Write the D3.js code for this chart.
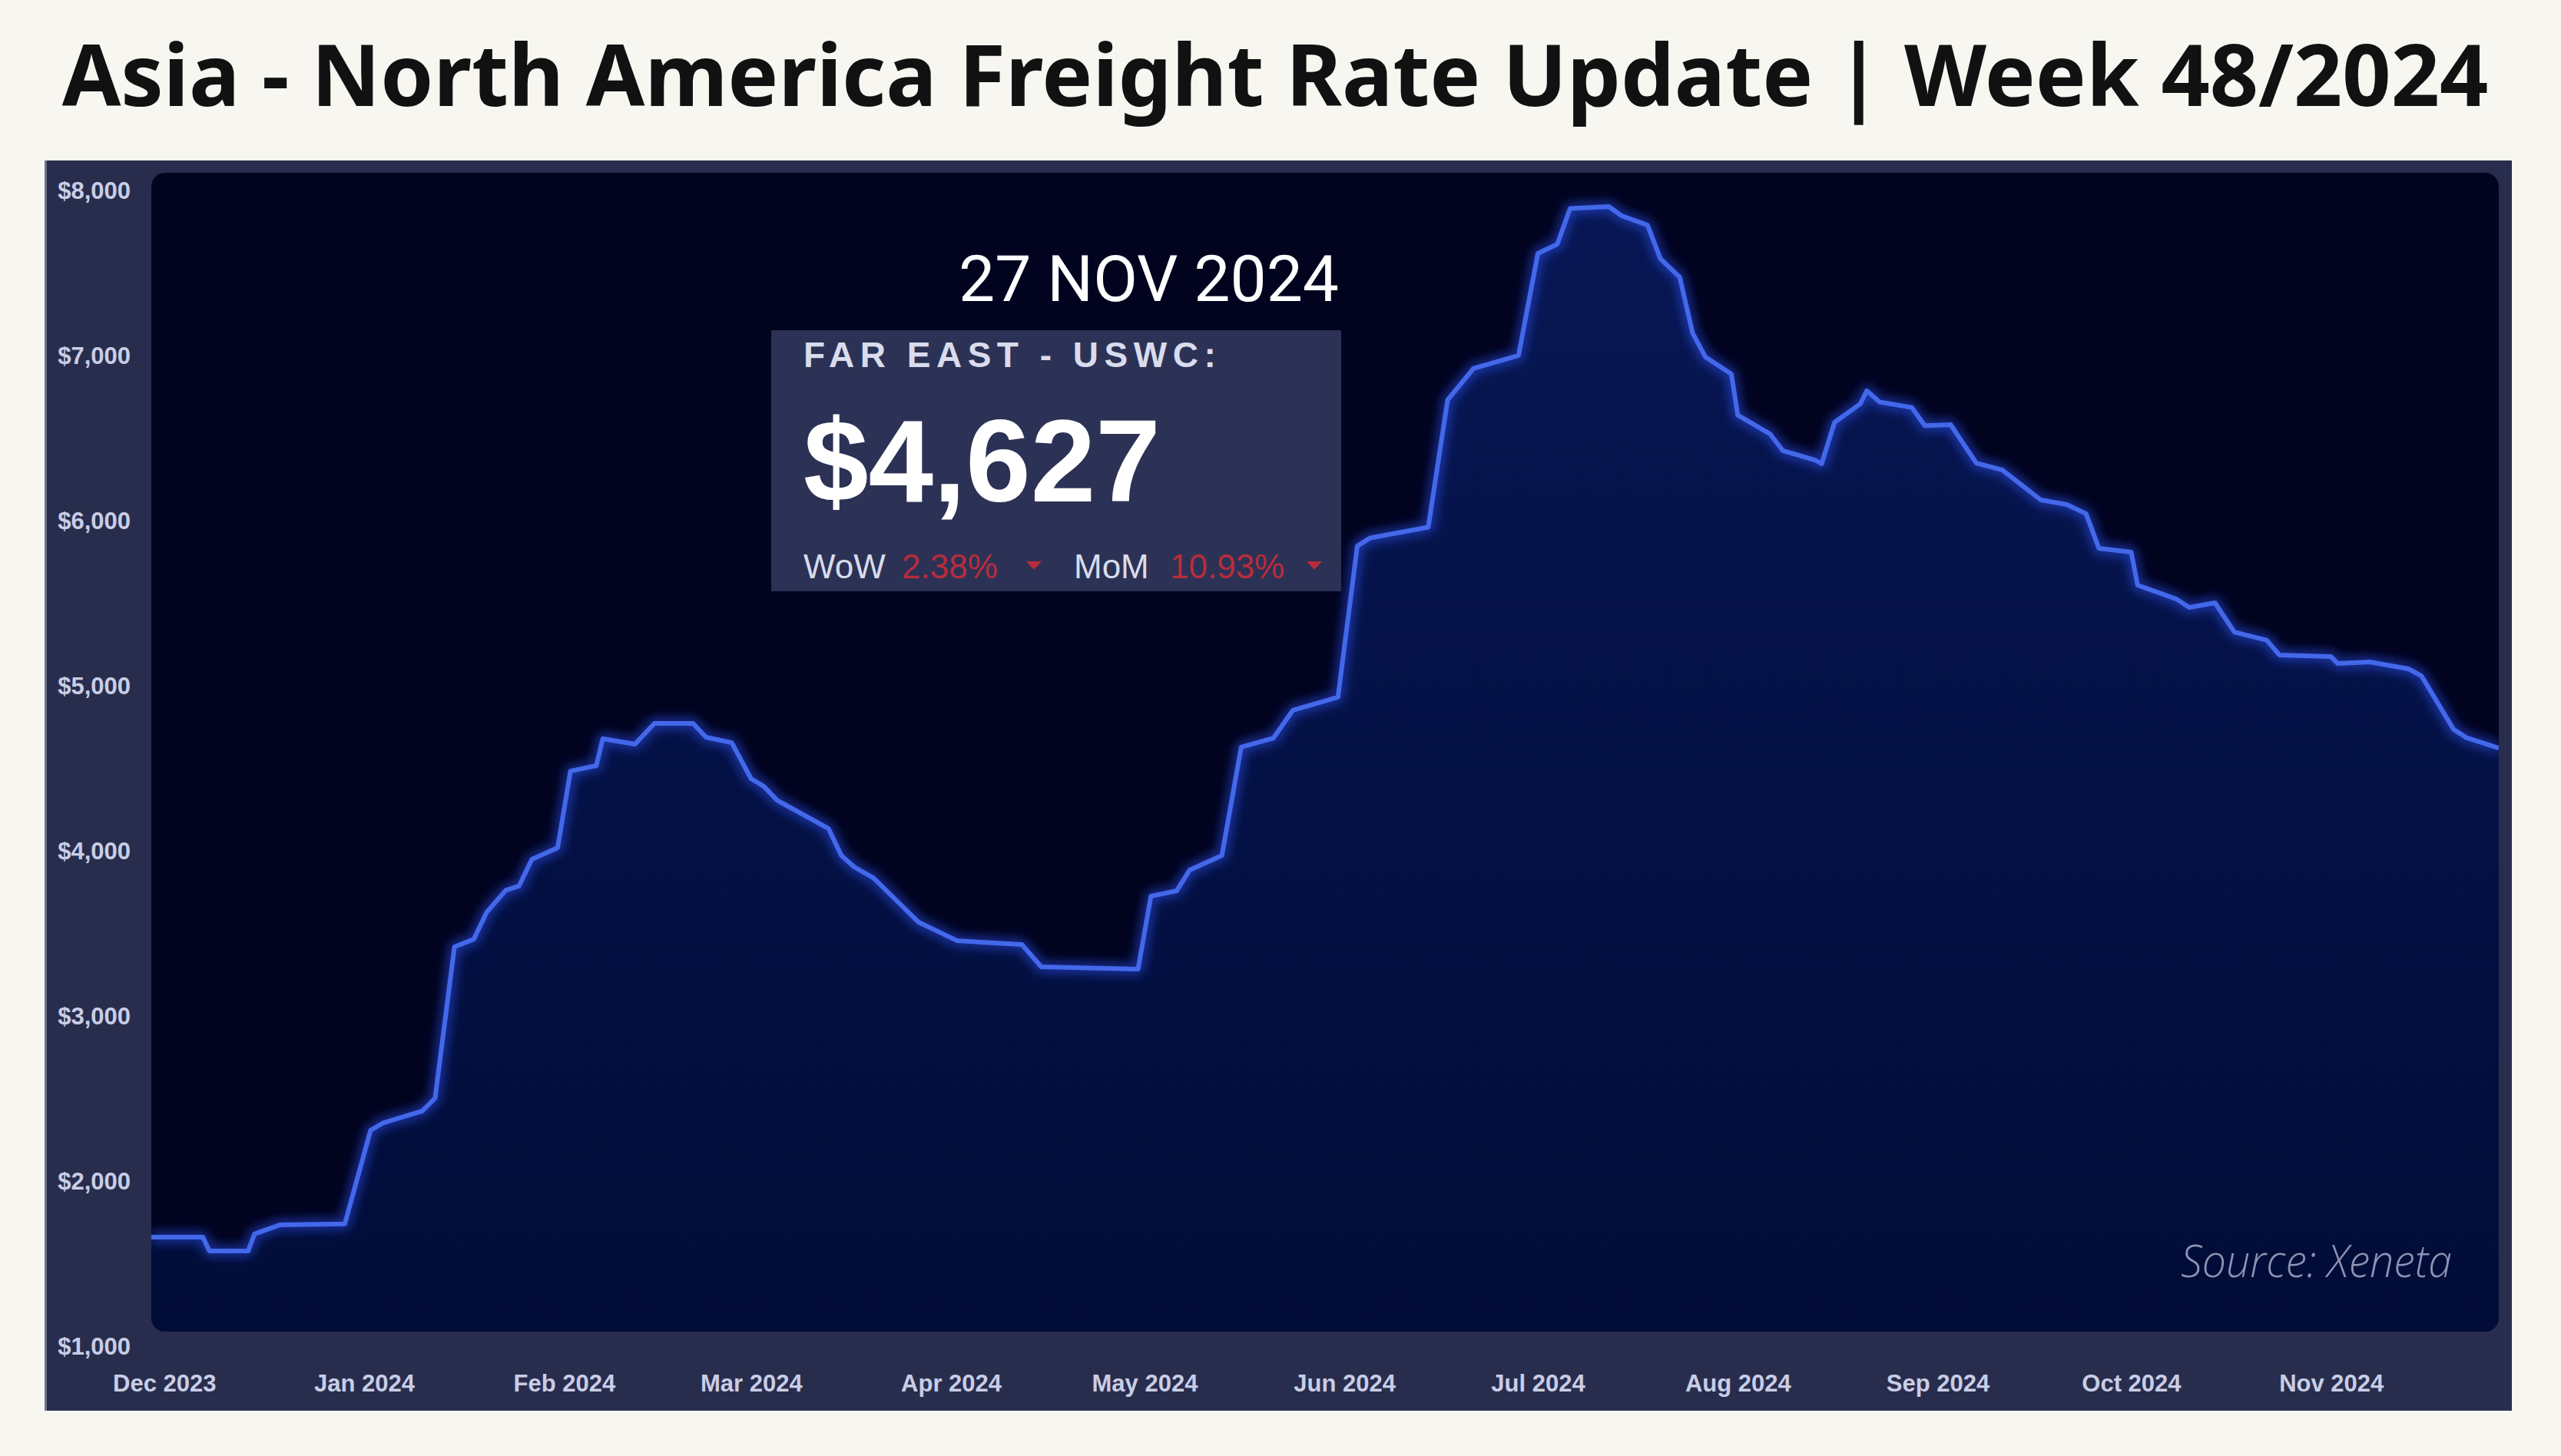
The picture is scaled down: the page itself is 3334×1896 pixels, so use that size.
<!DOCTYPE html>
<html><head><meta charset="utf-8">
<script src="https://cdn.jsdelivr.net/npm/d3@7"></script>
<style>html,body{margin:0;padding:0;background:#f7f6f1;}svg{display:block}</style>
</head><body>
<svg id="c" width="3334" height="1896"></svg>
<script>
const titleText = "Asia - North America Freight Rate Update | Week 48/2024";
const dates = ["2023-11-29","2023-12-07","2023-12-08","2023-12-14","2023-12-15","2023-12-17","2023-12-19","2023-12-29",
"2024-01-02","2024-01-04","2024-01-10","2024-01-12","2024-01-15","2024-01-18","2024-01-20","2024-01-23","2024-01-25","2024-01-27","2024-01-31",
"2024-02-02","2024-02-06","2024-02-07","2024-02-12","2024-02-15","2024-02-21","2024-02-23","2024-02-27",
"2024-03-01","2024-03-03","2024-03-05","2024-03-13","2024-03-15","2024-03-17","2024-03-20","2024-03-27",
"2024-04-02","2024-04-12","2024-04-15","2024-04-30",
"2024-05-02","2024-05-06","2024-05-08","2024-05-13","2024-05-16","2024-05-21","2024-05-24","2024-05-31",
"2024-06-03","2024-06-05","2024-06-14","2024-06-17","2024-06-21","2024-06-28",
"2024-07-01","2024-07-04","2024-07-06","2024-07-12","2024-07-14","2024-07-18","2024-07-20","2024-07-23","2024-07-25","2024-07-27","2024-07-31",
"2024-08-01","2024-08-06","2024-08-08","2024-08-13","2024-08-14","2024-08-16","2024-08-20","2024-08-21","2024-08-23","2024-08-28","2024-08-30",
"2024-09-03","2024-09-07","2024-09-11","2024-09-17","2024-09-21","2024-09-24","2024-09-26",
"2024-10-01","2024-10-02","2024-10-08","2024-10-10","2024-10-14","2024-10-17","2024-10-22","2024-10-24",
"2024-11-01","2024-11-02","2024-11-07","2024-11-13","2024-11-15","2024-11-20","2024-11-22","2024-11-27"];
const values = [1665,1665,1581,1581,1684,1712,1740,1745,
2312,2358,2428,2507,3423,3470,3633,3767,3791,3953,4023,
4488,4521,4684,4651,4777,4777,4693,4660,
4442,4395,4312,4140,3977,3907,3840,3572,
3460,3437,3302,3288,
3730,3763,3888,3977,4633,4688,4856,4935,
5851,5900,5965,6735,6926,7005,
7623,7679,7895,7907,7851,7795,7591,7479,7140,6995,6893,
6644,6530,6428,6372,6349,6600,6712,6791,6723,6690,6580,
6586,6353,6312,6130,6102,6047,5837,
5814,5614,5530,5479,5507,5330,5281,5191,
5181,5140,5149,5107,5065,4740,4690,4627];
const yTickValues = [1000,2000,3000,4000,5000,6000,7000,8000];
const xTickDates = ["2023-12-01","2024-01-01","2024-02-01","2024-03-01","2024-04-01","2024-05-01","2024-06-01","2024-07-01","2024-08-01","2024-09-01","2024-10-01","2024-11-01"];
const domainDates = ["2023-11-29","2024-11-27"];
const cardDate = "27 NOV 2024";
const cardRoute = "FAR EAST - USWC:";
const cardValue = 4627;
const wowLabel = "WoW", wowValue = "2.38%";
const momLabel = "MoM", momValue = "10.93%";
const sourceText = "Source: Xeneta";

const parse = d3.timeParse("%Y-%m-%d");
const data = dates.map((d,i)=>({date:parse(d), value:values[i]}));

const svg = d3.select("#c");
const plot = {x:197, y:225, w:3056, h:1509};

const defs = svg.append("defs");
const grad = defs.append("linearGradient").attr("id","areaGrad")
  .attr("gradientUnits","userSpaceOnUse").attr("x1",0).attr("x2",0).attr("y1",plot.y).attr("y2",plot.y+plot.h);
grad.append("stop").attr("offset","0%").attr("stop-color","#081755");
grad.append("stop").attr("offset","100%").attr("stop-color","#010c37");
defs.append("clipPath").attr("id","plotClip").append("rect")
  .attr("x",plot.x).attr("y",plot.y).attr("width",plot.w).attr("height",plot.h).attr("rx",18);
const glow = defs.append("filter").attr("id","glow").attr("x","-5%").attr("y","-5%").attr("width","110%").attr("height","110%");
glow.append("feGaussianBlur").attr("stdDeviation",7);

// title
const title = svg.append("text").text(titleText)
  .attr("x",1660).attr("y",138).attr("text-anchor","middle")
  .style("font-family","'Noto Sans', 'Open Sans', sans-serif").style("font-weight",700)
  .style("font-size","100px").attr("fill","#111111");
const tw = title.node().getComputedTextLength();
title.style("font-size",(100*3159/tw)+"px");

// outer panel
svg.append("rect").attr("x",58).attr("y",209).attr("width",3212).attr("height",1628).attr("fill","#282d4d");
svg.append("rect").attr("x",58).attr("y",209).attr("width",3).attr("height",1628).attr("fill","#6f7389");
// plot bg
svg.append("rect").attr("x",plot.x).attr("y",plot.y).attr("width",plot.w).attr("height",plot.h).attr("rx",18).attr("fill","#01031f");

const x = d3.scaleTime().domain(domainDates.map(parse)).range([plot.x, plot.x+plot.w]);
const y = d3.scaleLinear().domain([1000,8000]).range([1754,249]);

const g = svg.append("g").attr("clip-path","url(#plotClip)");
g.append("path").datum(data).attr("fill","url(#areaGrad)")
  .attr("d", d3.area().x(d=>x(d.date)).y0(plot.y+plot.h).y1(d=>y(d.value)));
g.append("path").datum(data).attr("fill","none").attr("stroke","#2d55ff").attr("stroke-opacity",0.55)
  .attr("stroke-width",14).attr("filter","url(#glow)").attr("stroke-linejoin","round")
  .attr("d", d3.line().x(d=>x(d.date)).y(d=>y(d.value)));
g.append("path").datum(data).attr("fill","none").attr("stroke","#4468ea")
  .attr("stroke-width",6).attr("stroke-linejoin","round")
  .attr("d", d3.line().x(d=>x(d.date)).y(d=>y(d.value)));

// axes
const axisFont = (sel)=>{
  sel.select(".domain").remove();
  sel.selectAll(".tick line").remove();
  sel.selectAll("text").attr("fill","#c9cde6").style("font-family","'Liberation Sans', Arial, sans-serif")
    .style("font-weight",700).style("font-size","31px");
};
svg.append("g").attr("transform",`translate(${plot.x},0)`)
  .call(d3.axisLeft(y).tickValues(yTickValues).tickSize(0).tickPadding(27).tickFormat(d3.format("$,")))
  .call(axisFont);
svg.append("g").attr("transform",`translate(0,${plot.y+plot.h})`)
  .call(d3.axisBottom(x).tickValues(xTickDates.map(parse)).tickSize(0).tickPadding(56).tickFormat(d3.timeFormat("%b %Y")))
  .call(axisFont);

// card
const dateT = svg.append("text").text(cardDate).attr("x",1743).attr("y",392).attr("text-anchor","end")
  .style("font-family","Roboto, sans-serif").style("font-weight",400).style("font-size","80px").attr("fill","#ffffff");
const dw = dateT.node().getComputedTextLength();
dateT.style("font-size",(80*495/dw)+"px");
svg.append("rect").attr("x",1004).attr("y",430).attr("width",742).attr("height",340).attr("fill","#2c3255");
svg.append("text").text(cardRoute).attr("x",1046).attr("y",478)
  .style("font-family","'Liberation Sans', Arial, sans-serif").style("font-weight",700).style("font-size","46px")
  .style("letter-spacing","7.5px").attr("fill","#d9dcec");
svg.append("text").text(d3.format("$,")(cardValue)).attr("x",1046).attr("y",653)
  .style("font-family","'Liberation Sans', Arial, sans-serif").style("font-weight",700).style("font-size","152px")
  .attr("fill","#ffffff");
const rowFont = sel => sel.style("font-family","'Liberation Sans', Arial, sans-serif").style("font-size","44px");
svg.append("text").text(wowLabel).attr("x",1046).attr("y",753).call(rowFont).attr("fill","#d9dcec");
svg.append("text").text(wowValue).attr("x",1174).attr("y",753).call(rowFont).attr("fill","#b82c3c");
svg.append("text").text(momLabel).attr("x",1398).attr("y",753).call(rowFont).attr("fill","#d9dcec");
svg.append("text").text(momValue).attr("x",1523).attr("y",753).call(rowFont).attr("fill","#b82c3c");
[1346,1711].forEach(cx=>{
  svg.append("path").attr("d",`M${cx-10},731 L${cx+10},731 L${cx},742 Z`).attr("fill","#b82c3c");
});

// source
svg.append("text").text(sourceText).attr("x",3192).attr("y",1663).attr("text-anchor","end")
  .style("font-family","'Open Sans', sans-serif").style("font-style","italic").style("font-weight",300)
  .style("font-size","58px").attr("textLength",353).attr("lengthAdjust","spacingAndGlyphs").attr("fill","#8d92b3");
</script>
</body></html>
